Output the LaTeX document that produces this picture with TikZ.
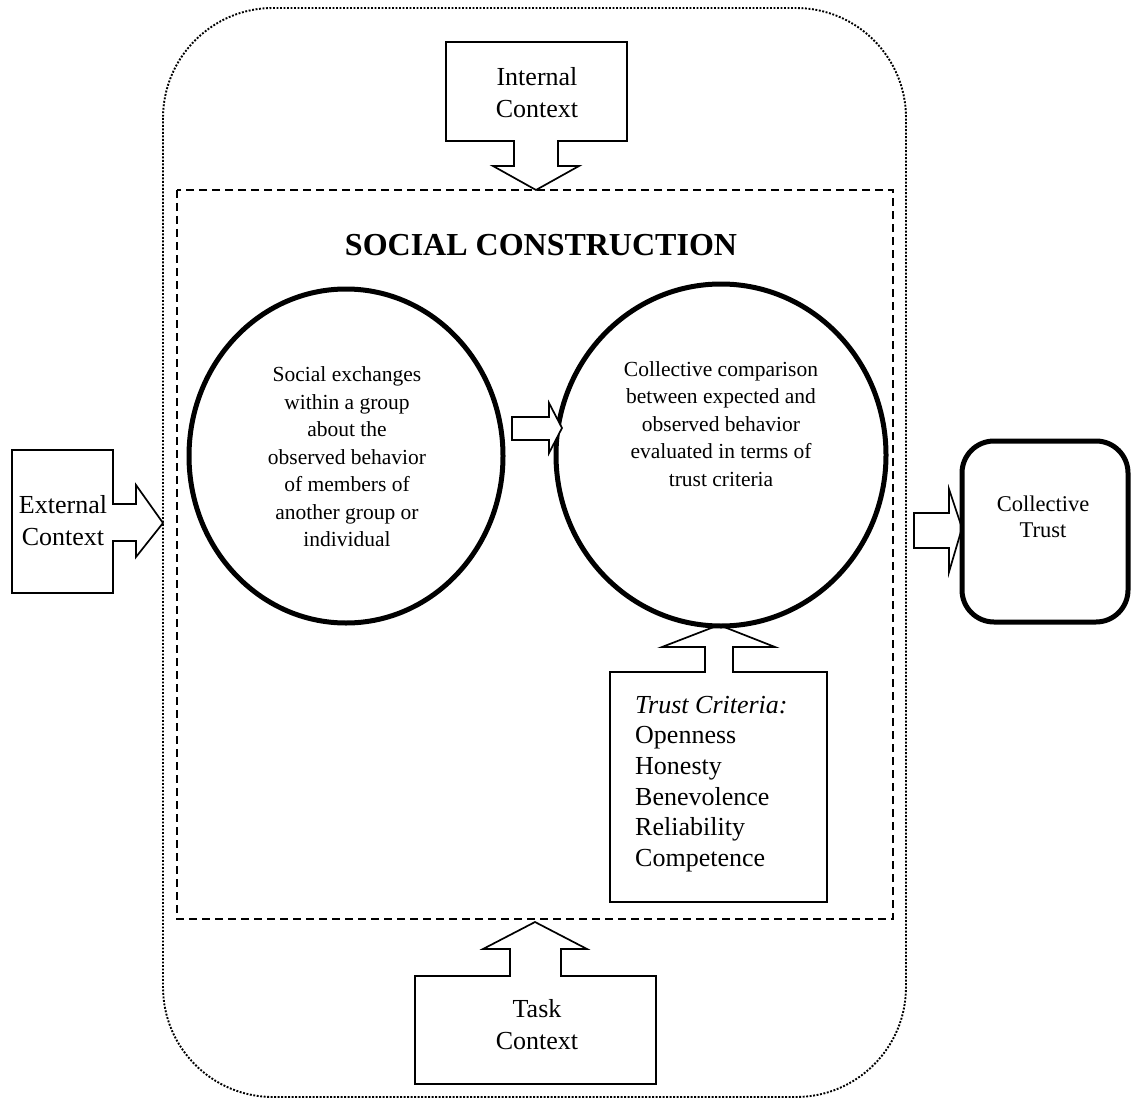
\documentclass[tikz,border=0pt]{standalone}
\usepackage{fontspec}
\setmainfont{Liberation Serif}
\usetikzlibrary{shapes.geometric}
\begin{document}
\begin{tikzpicture}[x=1pt,y=-1pt,
  thinbox/.style={draw=black, line width=1.7pt, fill=white, line join=miter},
  bigtxt/.style={font=\fontsize{26}{32}\selectfont, align=center, inner sep=0pt},
  circtxt/.style={font=\fontsize{21.5}{27.5}\selectfont, align=center, inner sep=0pt},
  bubble/.style={draw=black, ellipse, line width=5pt, inner sep=0pt, fill=none}
]
\useasboundingbox (0,0) rectangle (1131,1099);
% outer dotted frame
\draw[line width=1.9pt, dash pattern=on 1.9pt off 1.6pt, rounded corners=110pt] (163,8) rectangle (906,1097);
% dashed social construction frame
\draw[line width=1.6pt, dash pattern=on 8pt off 5pt] (177,190) rectangle (893,919);
\node[font=\fontsize{32}{38}\selectfont\bfseries, inner sep=0pt] (sc) at (541,245) {SOCIAL CONSTRUCTION};

% External context callout
\draw[thinbox] (12,450) -- (113,450) -- (113,504) -- (136,504) -- (136,485) -- (163,523) -- (136,557) -- (136,541) -- (113,541) -- (113,593) -- (12,593) -- cycle;
\node[bigtxt] (ext) at (63,521) {External\\Context};

% Internal context callout
\draw[thinbox] (446,42) -- (627,42) -- (627,141) -- (558,141) -- (558,166) -- (579,166) -- (536,190) -- (493,166) -- (514,166) -- (514,141) -- (446,141) -- cycle;
\node[bigtxt] (int) at (537,93) {Internal\\Context};

% Task context callout
\draw[thinbox] (415,976) -- (510,976) -- (510,949) -- (483,949) -- (535,922) -- (587,949) -- (561,949) -- (561,976) -- (656,976) -- (656,1084) -- (415,1084) -- cycle;
\node[bigtxt] (task) at (537,1025) {Task\\Context};

% Trust criteria callout
\draw[thinbox] (610,672) -- (705,672) -- (705,647) -- (662,647) -- (719,625) -- (775,647) -- (733,647) -- (733,672) -- (827,672) -- (827,902) -- (610,902) -- cycle;
\node[font=\fontsize{26}{30.6}\selectfont, align=left, inner sep=0pt, anchor=west] (crit) at (635,784) {\textit{Trust Criteria:}\\Openness\\Honesty\\Benevolence\\Reliability\\Competence};

% circles
\node[bubble, minimum width=314pt, minimum height=334pt] (c1) at (346,456) {};
\node[bubble, minimum width=330pt, minimum height=342pt] (c2) at (721,455) {};
\node[circtxt] (t1) at (347,457) {Social exchanges\\within a group\\about the\\observed behavior\\of members of\\another group or\\individual};
\node[circtxt] (t2) at (721,424) {Collective comparison\\between expected and\\observed behavior\\evaluated in terms of\\trust criteria};

% arrow between circles
\draw[thinbox] (512,417) -- (549,417) -- (549,403) -- (562,428) -- (549,453) -- (549,440) -- (512,440) -- cycle;

% arrow to collective trust
\draw[thinbox] (914,513) -- (949,513) -- (949,489) -- (962,528) -- (949,572) -- (949,548) -- (914,548) -- cycle;

% collective trust box
\node[draw=black, line width=5pt, rounded corners=32pt, minimum width=166pt, minimum height=181pt, inner sep=0pt] (ct) at (1045,531.5) {};
\node[font=\fontsize{22.5}{26}\selectfont, align=center, inner sep=0pt] (ctt) at (1043,517) {Collective\\Trust};
\end{tikzpicture}
\end{document}
